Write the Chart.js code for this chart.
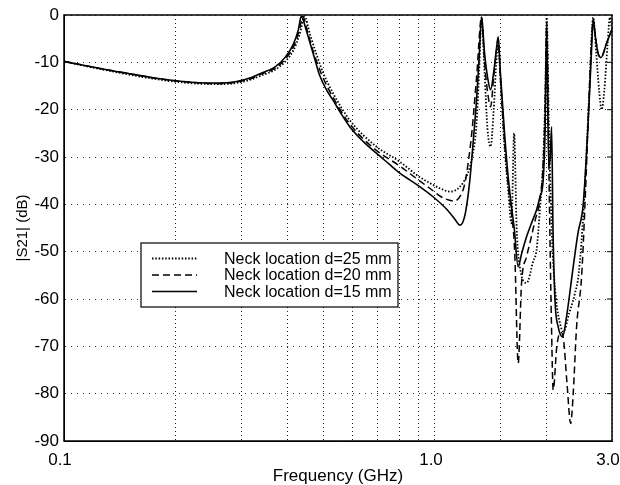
<!DOCTYPE html>
<html>
<head>
<meta charset="utf-8">
<script src="https://cdn.jsdelivr.net/npm/chart.js@4.4.0/dist/chart.umd.min.js"></script>
<style>
  html, body { margin: 0; padding: 0; background: #fff; }
</style>
</head>
<body>
<canvas id="s21Chart" width="620" height="485"></canvas>
<script>
// frequency in GHz, |S21| in dB
const freq25 = [0.1, 0.125, 0.15, 0.175, 0.2, 0.23, 0.26, 0.29, 0.32, 0.34, 0.37, 0.395, 0.415, 0.432, 0.445, 0.46, 0.48, 0.5, 0.531, 0.589, 0.695, 0.804, 0.9, 0.968, 1.03, 1.096, 1.16, 1.226, 1.26, 1.294, 1.315, 1.335, 1.36, 1.385, 1.412, 1.44, 1.465, 1.48, 1.5, 1.54, 1.575, 1.608, 1.634, 1.66, 1.7, 1.766, 1.84, 1.878, 1.917, 1.957, 1.985, 2.0, 2.03, 2.07, 2.12, 2.17, 2.22, 2.3, 2.38, 2.44, 2.52, 2.6, 2.67, 2.72, 2.77, 2.813, 2.86, 2.92, 2.96, 3.0];
const s21_25 = [-9.8, -11.4, -12.6, -13.5, -14.1, -14.5, -14.6, -14.4, -13.6, -12.8, -11.6, -9.8, -7.5, -4.0, -0.3, -4.0, -8.5, -12.3, -16.5, -22.2, -27.8, -31.0, -34.0, -35.5, -36.6, -37.3, -36.5, -33.4, -30.0, -23.0, -12.0, -0.5, -12.0, -24.0, -27.8, -20.0, -9.0, -5.5, -13.0, -28.0, -37.0, -44.0, -25.0, -45.0, -54.0, -56.6, -52.0, -49.7, -41.2, -30.9, -15.0, -0.5, -25.0, -48.0, -60.0, -65.0, -66.9, -63.0, -59.0, -54.6, -40.0, -18.0, -0.5, -8.0, -16.0, -20.0, -16.0, -6.0, -0.5, -3.0];

const freq20 = [0.1, 0.125, 0.15, 0.175, 0.2, 0.23, 0.26, 0.29, 0.32, 0.34, 0.37, 0.395, 0.415, 0.43, 0.44, 0.455, 0.47, 0.495, 0.531, 0.589, 0.695, 0.804, 0.9, 0.968, 1.05, 1.131, 1.17, 1.2, 1.23, 1.26, 1.295, 1.335, 1.36, 1.39, 1.412, 1.44, 1.465, 1.48, 1.5, 1.54, 1.575, 1.608, 1.64, 1.676, 1.711, 1.766, 1.802, 1.86, 1.917, 1.957, 1.98, 2.0, 2.03, 2.06, 2.083, 2.13, 2.18, 2.22, 2.27, 2.321, 2.358, 2.408, 2.484, 2.54, 2.6, 2.64, 2.67, 2.7, 2.75, 2.8, 2.9, 3.0];
const s21_20 = [-9.8, -11.3, -12.4, -13.3, -13.9, -14.3, -14.5, -14.2, -13.4, -12.5, -11.3, -9.3, -6.8, -3.5, -0.3, -4.0, -7.8, -12.6, -17.4, -23.0, -28.6, -31.9, -34.8, -36.6, -38.6, -39.3, -38.2, -36.0, -31.0, -24.0, -13.0, -0.5, -10.0, -17.0, -19.4, -13.0, -7.5, -5.0, -13.0, -27.0, -36.0, -42.0, -50.0, -73.6, -56.7, -51.0, -48.2, -43.5, -39.1, -31.5, -20.0, -1.5, -35.0, -65.0, -79.2, -70.0, -67.0, -68.5, -78.0, -86.3, -80.0, -65.9, -55.3, -39.0, -18.0, -6.0, -1.0, -4.0, -8.0, -9.0, -6.0, -3.0];

const freq15 = [0.1, 0.125, 0.15, 0.175, 0.2, 0.23, 0.26, 0.29, 0.32, 0.34, 0.37, 0.395, 0.415, 0.428, 0.436, 0.45, 0.462, 0.475, 0.489, 0.51, 0.531, 0.56, 0.589, 0.64, 0.695, 0.75, 0.804, 0.9, 0.988, 1.08, 1.14, 1.165, 1.185, 1.21, 1.241, 1.27, 1.294, 1.315, 1.335, 1.36, 1.385, 1.412, 1.44, 1.465, 1.48, 1.5, 1.54, 1.575, 1.608, 1.635, 1.676, 1.711, 1.766, 1.83, 1.878, 1.917, 1.957, 1.98, 2.0, 2.025, 2.045, 2.062, 2.08, 2.105, 2.15, 2.208, 2.26, 2.358, 2.43, 2.509, 2.59, 2.64, 2.67, 2.7, 2.75, 2.8, 2.9, 3.0];
const s21_15 = [-9.8, -11.3, -12.4, -13.3, -13.9, -14.3, -14.4, -14.1, -13.2, -12.3, -11.0, -8.9, -6.2, -3.2, -0.3, -3.3, -6.3, -9.5, -12.8, -15.8, -18.0, -21.0, -23.6, -26.7, -29.2, -31.4, -33.4, -36.0, -38.4, -41.2, -43.5, -44.4, -44.0, -41.5, -35.0, -26.0, -18.0, -9.0, -0.5, -8.0, -13.0, -15.8, -12.0, -7.0, -4.6, -12.0, -25.0, -34.2, -40.5, -45.0, -53.2, -50.5, -46.8, -43.5, -41.2, -38.5, -34.9, -25.0, -2.5, -32.0, -30.0, -23.6, -45.0, -60.0, -66.0, -68.0, -64.0, -53.2, -46.0, -40.0, -22.0, -8.0, -1.0, -4.0, -8.0, -9.0, -6.0, -3.0];

const seriesLabels = ['Neck location d=25 mm', 'Neck location d=20 mm', 'Neck location d=15 mm'];
const xTickValues = [0.1, 1, 3];
const xTickText = ['0.1', '1.0', '3.0'];
const yMin = -90, yMax = 0, yStep = 10;

const FONT = "'Liberation Sans', Arial, Helvetica, sans-serif";
Chart.defaults.font.family = FONT;
Chart.defaults.color = '#000';

const toPoints = (xs, ys) => xs.map((x, i) => ({ x: x, y: ys[i] }));

// box, right-side ticks and the in-plot legend
const frameLegend = {
    id: 'frameLegend',
    afterDraw(chart) {
        const ctx = chart.ctx;
        const a = chart.chartArea;
        ctx.save();
        ctx.strokeStyle = '#000';
        ctx.lineWidth = 1.5;
        ctx.setLineDash([]);
        ctx.strokeRect(a.left, a.top, a.right - a.left, a.bottom - a.top);

        const ys = chart.scales.y;
        ctx.lineWidth = 1;
        for (let v = yMin + yStep; v < yMax; v += yStep) {
            const py = ys.getPixelForValue(v);
            ctx.beginPath();
            ctx.moveTo(a.right - 5, py);
            ctx.lineTo(a.right, py);
            ctx.stroke();
        }

        // legend box
        const lx = 141, ly = 243, lw = 257, lh = 64;
        ctx.fillStyle = '#fff';
        ctx.fillRect(lx, ly, lw, lh);
        ctx.lineWidth = 1.2;
        ctx.strokeRect(lx, ly, lw, lh);

        ctx.font = '16px ' + FONT;
        ctx.textBaseline = 'middle';
        ctx.fillStyle = '#000';
        chart.data.datasets.forEach((ds, i) => {
            const rowY = ly + 15.5 + i * 16.5;
            ctx.save();
            ctx.setLineDash(ds.borderDash || []);
            ctx.lineWidth = ds.borderWidth;
            ctx.beginPath();
            ctx.moveTo(152, rowY);
            ctx.lineTo(197, rowY);
            ctx.stroke();
            ctx.restore();
            ctx.fillText(ds.label, 224, rowY + 1);
        });
        ctx.restore();
    }
};

const lineStyle = {
    borderColor: '#000',
    pointRadius: 0,
    fill: false,
    cubicInterpolationMode: 'monotone'
};

new Chart(document.getElementById('s21Chart'), {
    type: 'line',
    data: {
        datasets: [
            Object.assign({ label: seriesLabels[0], data: toPoints(freq25, s21_25), borderWidth: 1.8, borderDash: [1.5, 1.8] }, lineStyle),
            Object.assign({ label: seriesLabels[1], data: toPoints(freq20, s21_20), borderWidth: 1.5, borderDash: [7, 4] }, lineStyle),
            Object.assign({ label: seriesLabels[2], data: toPoints(freq15, s21_15), borderWidth: 1.6, borderDash: [] }, lineStyle)
        ]
    },
    options: {
        responsive: false,
        animation: false,
        layout: { padding: { left: 0, top: 15, right: 8, bottom: 0 } },
        plugins: {
            legend: { display: false },
            tooltip: { enabled: false }
        },
        scales: {
            x: {
                type: 'logarithmic',
                min: 0.1,
                max: 3,
                grid: { color: '#222', lineWidth: 1, drawTicks: false },
                border: { display: true, color: '#000', dash: [1, 3] },
                ticks: {
                    autoSkip: false,
                    maxRotation: 0,
                    padding: 9,
                    labelOffset: -4,
                    font: { size: 17 },
                    callback: (value) => {
                        const k = xTickValues.findIndex(t => Math.abs(t - value) < 1e-6);
                        return k >= 0 ? xTickText[k] : '';
                    }
                },
                title: { display: true, text: 'Frequency (GHz)', font: { size: 17, lineHeight: 1 }, padding: { top: 0, bottom: 0 } },
                afterFit: (scale) => { scale.height = 44; scale.paddingLeft = 0; scale.paddingRight = 0; }
            },
            y: {
                min: yMin,
                max: yMax,
                grid: { color: '#333', lineWidth: 1, drawTicks: false },
                border: { display: true, color: '#000', dash: [1, 5] },
                ticks: { stepSize: yStep, padding: 5, font: { size: 17 } },
                title: { display: true, text: '|S21| (dB)', font: { size: 15 }, padding: { top: 14, bottom: 0 } },
                afterFit: (scale) => { scale.width = 64; scale.paddingTop = 0; scale.paddingBottom = 0; }
            }
        }
    },
    plugins: [frameLegend]
});
</script>
</body>
</html>
